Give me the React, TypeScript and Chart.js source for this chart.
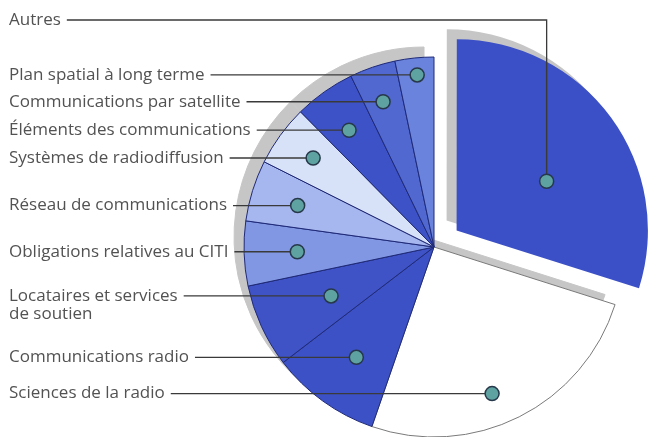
import React, { useEffect, useRef } from "react";
import { Chart, registerables } from "chart.js";

Chart.register(...registerables);

// ---- data ----
const categories = [
  "Autres",
  "Sciences de la radio",
  "Communications radio",
  "Locataires et services de soutien",
  "Obligations relatives au CITI",
  "Réseau de communications",
  "Systèmes de radiodiffusion",
  "Éléments des communications",
  "Communications par satellite",
  "Plan spatial à long terme",
];
const shares = [29.9, 25.4, 9.3, 7.1, 5.5, 5.2, 5.2, 5.2, 3.9, 3.3];
const labelLines = [
  ["Autres"],
  ["Sciences de la radio"],
  ["Communications radio"],
  ["Locataires et services", "de soutien"],
  ["Obligations relatives au CITI"],
  ["Réseau de communications"],
  ["Systèmes de radiodiffusion"],
  ["Éléments des communications"],
  ["Communications par satellite"],
  ["Plan spatial à long terme"],
];

// ---- styles / layout ----
const sliceColors = [
  "#3b4fc6",
  "#ffffff",
  "#3d51c6",
  "#3f53c7",
  "#8197e3",
  "#a6b6ee",
  "#d7e1f7",
  "#3e52c8",
  "#5068d0",
  "#6a83dc",
];
const sliceBorderColors = [
  "#3b4fc6",
  "#7a7a7a",
  "#1f2a78",
  "#1f2a78",
  "#1f2a78",
  "#1f2a78",
  "#1f2a78",
  "#1f2a78",
  "#1f2a78",
  "#1f2a78",
];
const sliceBorderWidths = [0, 1, 1, 1, 1, 1, 1, 1, 1, 1];
const sliceOffsets = [112, 0, 0, 0, 0, 0, 0, 0, 0, 0];
// dot anchor within each slice: fraction of the slice's angle and of the radius
const anchorAngle = [0.57, 0.555, 0.48, 0.47, 0.5, 0.48, 0.52, 0.46, 0.47, 0.53];
const anchorRadius = [0.54, 0.83, 0.71, 0.6, 0.72, 0.75, 0.79, 0.76, 0.81, 0.91];
const labelYOverride: (number | null)[] = [20, null, null, null, null, null, null, null, null, null];

const FONT = '17px "Open Sans", "Noto Sans", sans-serif';
const TEXT_COLOR = "#525252";
const TEXT_X = 9;
const LINE_H = 18;
const SHADOW_DX = -10;
const SHADOW_DY = -10;

const shadowPlugin = {
  id: "pieShadow",
  beforeDatasetsDraw(chart: any) {
    const meta = chart.getDatasetMeta(0);
    const w = chart.canvas.width;
    const h = chart.canvas.height;
    const off = document.createElement("canvas");
    off.width = w;
    off.height = h;
    const octx = off.getContext("2d") as CanvasRenderingContext2D;
    meta.data.forEach((arc: any) => arc.draw(octx));
    octx.globalCompositeOperation = "source-in";
    octx.fillStyle = "#c6c6c6";
    octx.fillRect(0, 0, w, h);
    const ctx = chart.ctx;
    ctx.save();
    ctx.filter = "blur(0.7px)";
    ctx.drawImage(off, SHADOW_DX, SHADOW_DY, w, h);
    ctx.restore();
  },
};

const labelPlugin = {
  id: "leaderLabels",
  afterDatasetsDraw(chart: any) {
    const ctx: CanvasRenderingContext2D = chart.ctx;
    const meta = chart.getDatasetMeta(0);
    ctx.save();
    ctx.font = FONT;
    meta.data.forEach((arc: any, i: number) => {
      const p = arc.getProps(["x", "y", "startAngle", "endAngle", "outerRadius"]);
      const offset = (arc.options.offset || 0) / 4;
      const half = (p.startAngle + p.endAngle) / 2;
      const cx = p.x + Math.cos(half) * offset;
      const cy = p.y + Math.sin(half) * offset;
      const a = p.startAngle + anchorAngle[i] * (p.endAngle - p.startAngle);
      const r = anchorRadius[i] * p.outerRadius;
      const dx = cx + Math.cos(a) * r;
      const dy = cy + Math.sin(a) * r;
      const lines = labelLines[i];
      const ov = labelYOverride[i];
      const ty = ov == null ? dy : ov;

      ctx.fillStyle = TEXT_COLOR;
      ctx.textAlign = "left";
      ctx.textBaseline = "middle";
      lines.forEach((t, k) => ctx.fillText(t, TEXT_X, ty + k * LINE_H));
      const tw = ctx.measureText(lines[0]).width;

      ctx.strokeStyle = "#3a3a3a";
      ctx.lineWidth = 1.3;
      ctx.beginPath();
      ctx.moveTo(TEXT_X + tw + 6, ty);
      if (Math.abs(ty - dy) > 1) {
        ctx.lineTo(dx, ty);
        ctx.lineTo(dx, dy);
      } else {
        ctx.lineTo(dx, ty);
      }
      ctx.stroke();

      ctx.beginPath();
      ctx.arc(dx, ov == null ? ty : dy, 7, 0, Math.PI * 2);
      ctx.fillStyle = "#5fa2a2";
      ctx.fill();
      ctx.lineWidth = 1.5;
      ctx.strokeStyle = "#26384a";
      ctx.stroke();
    });
    ctx.restore();
  },
};

export default function App() {
  const ref = useRef<HTMLCanvasElement | null>(null);
  useEffect(() => {
    if (!ref.current) return;
    const chart = new Chart(ref.current, {
      type: "pie",
      data: {
        labels: categories,
        datasets: [
          {
            data: shares,
            backgroundColor: sliceColors,
            borderColor: sliceBorderColors,
            borderWidth: sliceBorderWidths,
            offset: sliceOffsets,
          },
        ],
      },
      options: {
        responsive: false,
        animation: false,
        radius: 190,
        rotation: 0,
        layout: { padding: { left: 220, top: 57, right: 0, bottom: 0 } },
        plugins: {
          legend: { display: false },
          tooltip: { enabled: false },
        },
        events: [],
      } as any,
      plugins: [shadowPlugin, labelPlugin],
    });
    return () => chart.destroy();
  }, []);
  return (
    <div style={{ position: "fixed", left: 0, top: 0, width: 648, height: 437, background: "#fff" }}>
      <canvas ref={ref} width={648} height={437} />
    </div>
  );
}
